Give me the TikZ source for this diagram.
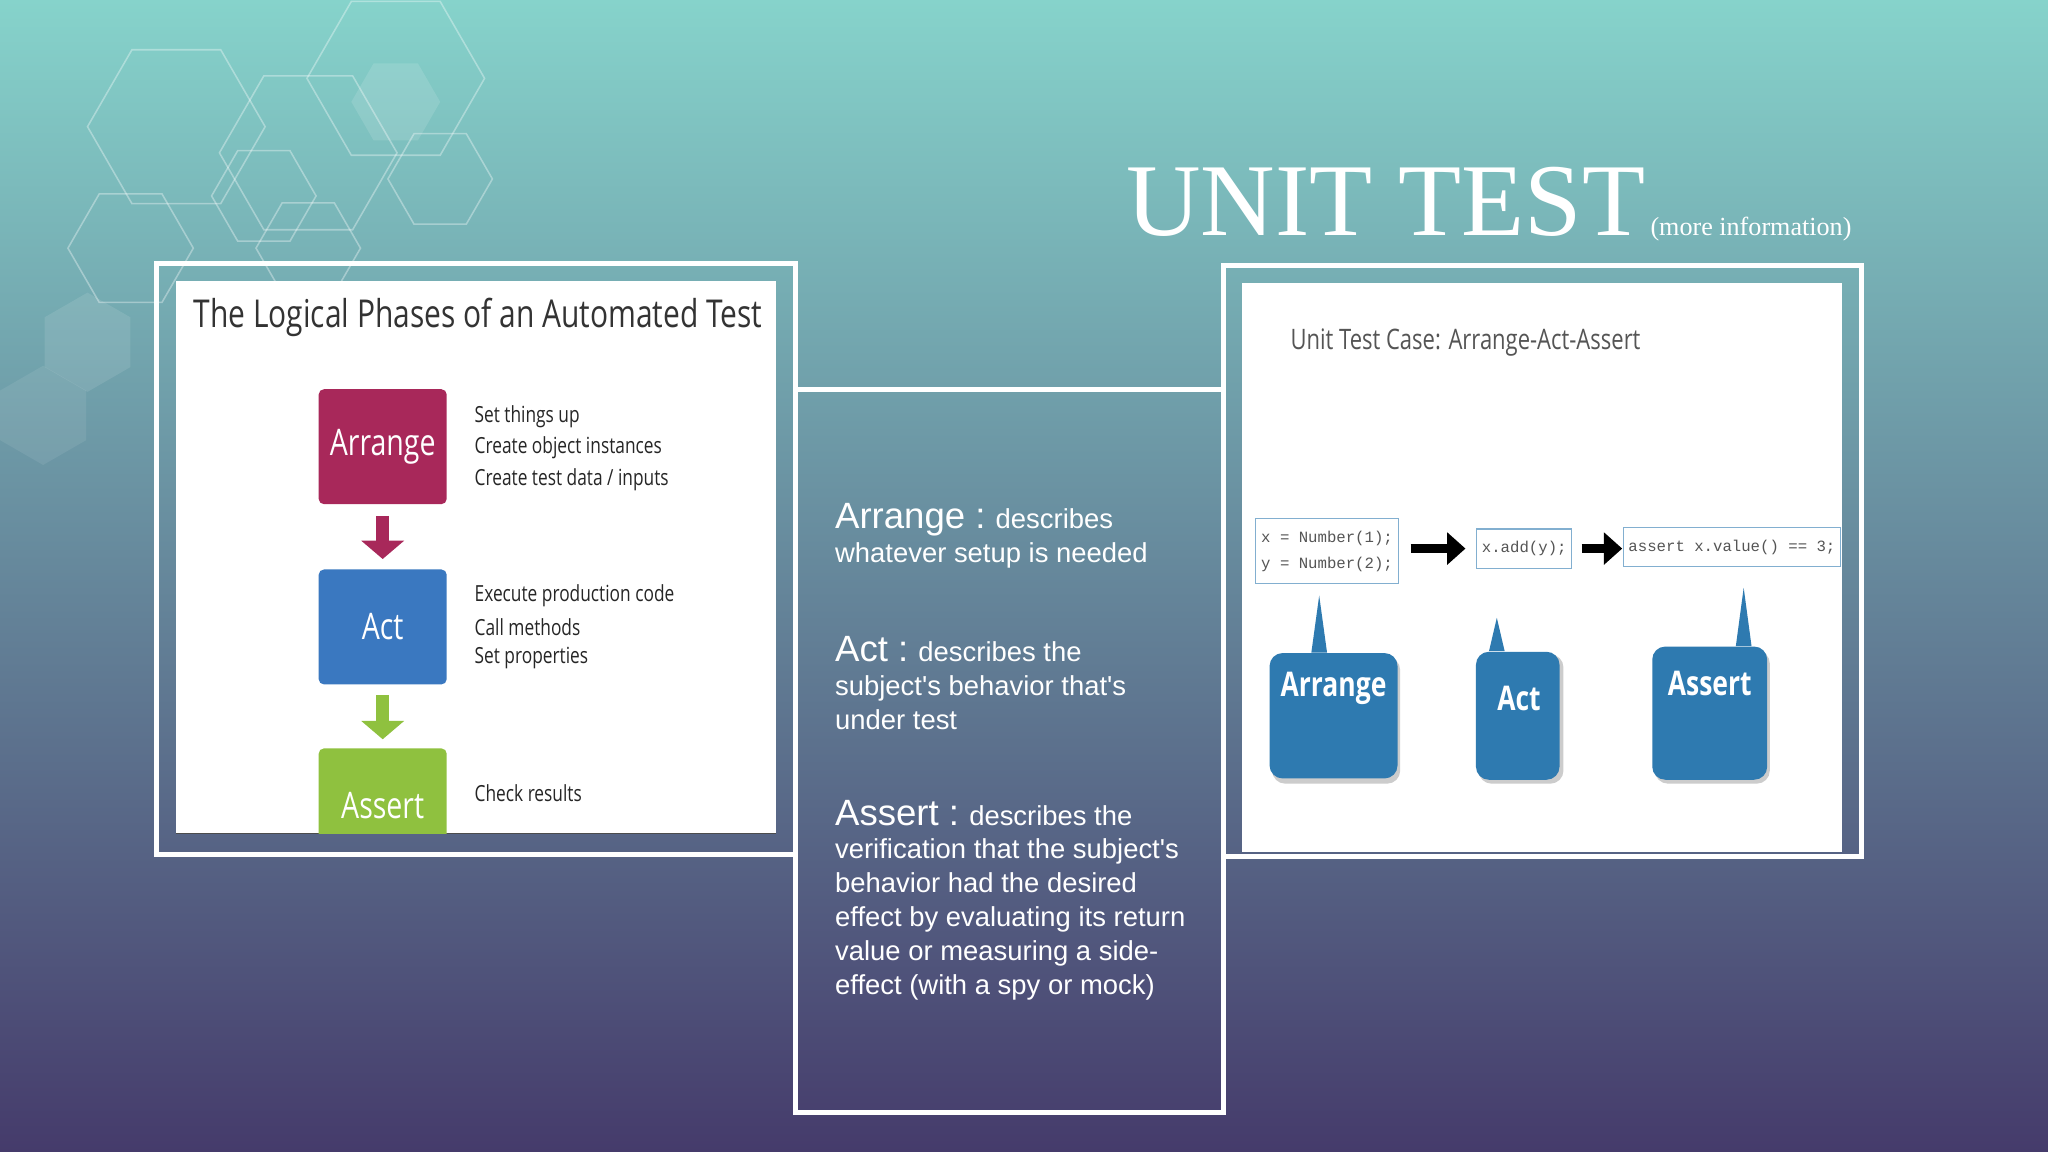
\documentclass[tikz,border=0pt]{standalone}
\usepackage{fontspec}
\setmainfont{Liberation Serif}
\newfontfamily\sans{Liberation Sans}
\newfontfamily\cond[FakeStretch=0.78]{Open Sans}
\newfontfamily\mono{Liberation Mono}
\usetikzlibrary{arrows.meta,shapes.geometric}
\definecolor{bgtop}{HTML}{86D3CB}
\definecolor{bgmid}{HTML}{5E9AA6}
\definecolor{bgbot}{HTML}{453B6B}
\definecolor{arr}{HTML}{A8285A}
\definecolor{actc}{HTML}{3A78C0}
\definecolor{asc}{HTML}{8FC13F}
\definecolor{bub}{HTML}{2E7AB0}
\definecolor{gtxt}{HTML}{555555}
\tikzset{
 frame/.style={draw=white,line width=2pt},
 phase/.style={minimum width=49pt,minimum height=44pt,text=white,font=\cond\fontsize{14}{16}\selectfont,inner sep=0pt},
 lst/.style={anchor=west,font=\cond\fontsize{8.5}{11}\selectfont,text=black!85,inner sep=0pt},
 code/.style={draw=bub!60,fill=white,font=\mono\fontsize{6}{9}\selectfont,text=gtxt,align=left,inner sep=2pt},
 bubble/.style={fill=bub,rounded corners=5pt,text=white,font=\cond\bfseries\fontsize{13}{15}\selectfont,inner sep=0pt},
 blab/.style={text=white,font=\cond\bfseries\fontsize{13}{15}\selectfont,inner sep=0pt},
 hex/.style={draw=white,opacity=0.35,line width=0.6pt},
 mid/.style={anchor=north west,align=left,text=white,inner sep=0pt,font=\sans\fontsize{10.5}{13}\selectfont}
}
\newcommand{\hexg}[3]{\draw[hex] (#1,#2) +(0:#3) -- +(60:#3) -- +(120:#3) -- +(180:#3) -- +(240:#3) -- +(300:#3) -- cycle;}
\begin{document}
\begin{tikzpicture}[x=0.5pt,y=-0.5pt]
\shade[top color=bgtop,middle color=bgmid,bottom color=bgbot] (0,0) rectangle (1568,882);
\useasboundingbox (0,0) rectangle (1568,882);
% hexagons
\hexg{135}{97}{68}
\hexg{303}{60}{68}
\hexg{236}{117}{68}
\hexg{100}{190}{48}
\hexg{236}{190}{40}
\hexg{337}{137}{40}
\hexg{202}{150}{40}
\fill[white,opacity=0.12] (303,78) +(0:34) -- +(60:34) -- +(120:34) -- +(180:34) -- +(240:34) -- +(300:34) -- cycle;
\fill[white,opacity=0.1] (67,262) +(30:38) -- +(90:38) -- +(150:38) -- +(210:38) -- +(270:38) -- +(330:38) -- cycle;
\fill[white,opacity=0.08] (33,318) +(30:38) -- +(90:38) -- +(150:38) -- +(210:38) -- +(270:38) -- +(330:38) -- cycle;
% title
\node[anchor=base west,text=white,inner sep=0pt,font=\fontsize{39.5}{40}\selectfont] (title) at (862,180) {UNIT TEST};
\node[anchor=base west,text=white,inner sep=0pt,font=\fontsize{10}{12}\selectfont] (more) at (title.base east) {\,(more information)};
% left panel
\draw[frame] (120,202) rectangle (609,654);
\fill[white] (135,215) rectangle (594,638);
\draw[black!70,line width=0.6pt] (135,638) -- (594,638);
\node[font=\cond\fontsize{14.7}{17}\selectfont,text=black!80] (lt) at (366,243) {The Logical Phases of an Automated Test};
\node[phase,fill=arr,rounded corners=2pt] (ar) at (293,342) {Arrange};
\node[phase,fill=actc,rounded corners=2pt] (ac) at (293,480) {Act};
\begin{scope}
\clip (135,215) rectangle (594,638);
\node[phase,fill=asc,rounded corners=2pt] (as) at (293,617) {Assert};
\end{scope}
\coordinate (a1) at (293,395); \coordinate (a2) at (293,428);
\coordinate (g1) at (293,532); \coordinate (g2) at (293,566);
\draw[arr,line width=5pt,-{Triangle[length=7pt,width=16pt]}] (a1) -- (a2);
\draw[asc,line width=5pt,-{Triangle[length=7pt,width=16pt]}] (g1) -- (g2);
\node[lst] (t1) at (363,319) {Set things up};
\node[lst] (t2) at (363,343) {Create object instances};
\node[lst] (t3) at (363,367) {Create test data / inputs};
\node[lst] (t4) at (363,456) {Execute production code};
\node[lst] (t5) at (363,480) {Call methods};
\node[lst] (t6) at (363,504) {Set properties};
\node[lst] (t7) at (363,607) {Check results};
% middle
\draw[frame] (609,298) -- (937,298);
\draw[frame] (609,298) rectangle (937,852);
\node[mid] (m1) at (639,385) {{\fontsize{14}{14}\selectfont Arrange :} describes\\whatever setup is needed};
\node[mid] (m2) at (639,487) {{\fontsize{14}{14}\selectfont Act :} describes the\\subject's behavior that's\\under test};
\node[mid] (m3) at (639,612) {{\fontsize{14}{14}\selectfont Assert :} describes the\\verification that the subject's\\behavior had the desired\\effect by evaluating its return\\value or measuring a side-\\effect (with a spy or mock)};
% right panel
\draw[frame] (937,203) rectangle (1425,656);
\fill[white] (951,217) rectangle (1410,652);
\node[anchor=west,font=\cond\fontsize{10.8}{13}\selectfont,text=gtxt] (rt) at (981,262) {Unit Test Case: Arrange-Act-Assert};
\node[code,minimum width=54pt,minimum height=25pt] (c1) at (1016,422) {x = Number(1);\\[1pt]y = Number(2);};
\node[code,minimum width=36pt,minimum height=15pt] (c2) at (1167,420) {x.add(y);};
\node[code,minimum width=81pt,minimum height=15pt] (c3) at (1326,419) {assert x.value() == 3;};
\draw[black,line width=3.5pt,-{Triangle[length=7pt,width=12pt]}] (1080,420) -- (1122,420);
\draw[black,line width=3.5pt,-{Triangle[length=7pt,width=12pt]}] (1211,420) -- (1242,420);
\fill[black!20,rounded corners=5pt] (974,503) rectangle (1072,600);
\fill[black!20,rounded corners=5pt] (1132,501) rectangle (1197,600);
\fill[black!20,rounded corners=5pt] (1267,498) rectangle (1355,600);
\node[bubble,minimum width=49pt,minimum height=48pt] (b1) at (1021,548) {};
\node[bubble,minimum width=32pt,minimum height=49pt] (b2) at (1162,548) {};
\node[bubble,minimum width=44pt,minimum height=51pt] (b3) at (1309,546) {};
\node[blab] (l1) at (1021,527) {Arrange};
\node[blab] (l2) at (1163,535) {Act};
\node[blab] (l3) at (1309,523) {Assert};
\coordinate (p1) at (1010,456); \coordinate (p2) at (1146,473); \coordinate (p3) at (1335,450);
\fill[bub] (p1) -- ([xshift=-3pt]b1.north -| p1) -- ([xshift=3pt]b1.north -| p1) -- cycle;
\fill[bub] (p2) -- ([xshift=-3pt]b2.north -| p2) -- ([xshift=3pt]b2.north -| p2) -- cycle;
\fill[bub] (p3) -- ([xshift=-3pt]b3.north -| p3) -- ([xshift=3pt]b3.north -| p3) -- cycle;
\end{tikzpicture}
\end{document}
